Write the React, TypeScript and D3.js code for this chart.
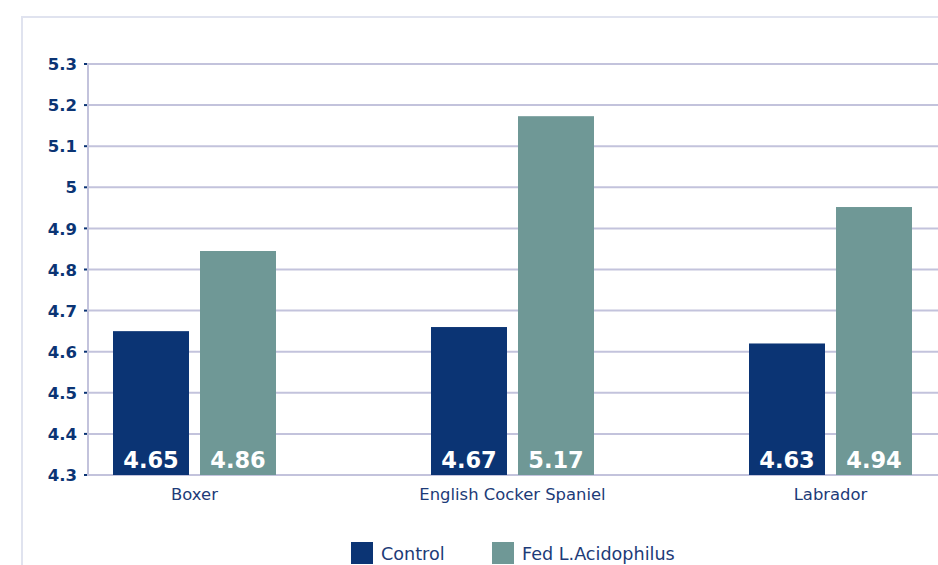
import React from "react";
import * as d3 from "d3";

const categories = ["Boxer", "English Cocker Spaniel", "Labrador"];
const controlValues = [4.65, 4.66, 4.62];
const fedValues = [4.845, 5.173, 4.952];
const controlLabels = ["4.65", "4.67", "4.63"];
const fedLabels = ["4.86", "5.17", "4.94"];
const yTicks = [4.3, 4.4, 4.5, 4.6, 4.7, 4.8, 4.9, 5, 5.1, 5.2, 5.3];
const seriesNames = ["Control", "Fed L.Acidophilus"];

const W = 938;
const H = 565;
const NAVY = "#0b3474";
const TEAL = "#6f9896";
const GRID = "#c3c3dc";
const FONT = "'DejaVu Sans', sans-serif";

export default function App() {
  const y = d3.scaleLinear().domain([4.3, 5.3]).range([475, 64]);
  const x = d3.scalePoint<string>().domain(categories).range([194.5, 830.5]);
  const barW = 76;
  const gap = 11;
  const axisX = 88;

  return (
    <svg
      width={W}
      height={H}
      style={{ position: "absolute", left: 0, top: 0, background: "#fff" }}
      fontFamily={FONT}
    >
      {/* frame */}
      <rect x={22} y={17} width={W} height={H} fill="none" stroke="#e0e3ef" strokeWidth={2} />
      {/* gridlines */}
      {yTicks.map((t) => (
        <g key={t}>
          <line x1={axisX} x2={W} y1={y(t)} y2={y(t)} stroke={GRID} strokeWidth={2} />
          <line x1={axisX - 4} x2={axisX} y1={y(t)} y2={y(t)} stroke={NAVY} strokeWidth={2} />
          <text
            x={77}
            y={y(t)}
            dy="0.37em"
            textAnchor="end"
            fontSize={16.5}
            fontWeight="bold"
            fill={NAVY}
          >
            {d3.format("")(t)}
          </text>
        </g>
      ))}
      <line x1={axisX} x2={axisX} y1={y(5.3) - 1} y2={y(4.3) + 1} stroke={GRID} strokeWidth={2} />
      {/* bars */}
      {categories.map((c, i) => {
        const cx = x(c)!;
        const x0 = cx - gap / 2 - barW;
        const x1 = cx + gap / 2;
        return (
          <g key={c}>
            <rect x={x0} y={y(controlValues[i])} width={barW} height={y(4.3) - y(controlValues[i])} fill={NAVY} />
            <rect x={x1} y={y(fedValues[i])} width={barW} height={y(4.3) - y(fedValues[i])} fill={TEAL} />
            <text x={x0 + barW / 2} y={467.5} textAnchor="middle" fontSize={22.5} fontWeight="bold" fill="#fff">
              {controlLabels[i]}
            </text>
            <text x={x1 + barW / 2} y={467.5} textAnchor="middle" fontSize={22.5} fontWeight="bold" fill="#fff">
              {fedLabels[i]}
            </text>
            <text x={cx} y={500} textAnchor="middle" fontSize={16.4} fill="#1d3b78">
              {c}
            </text>
          </g>
        );
      })}
      {/* legend */}
      {seriesNames.map((s, i) => {
        const lx = i === 0 ? 351 : 492;
        return (
          <g key={s}>
            <rect x={lx} y={542} width={22} height={22} fill={i === 0 ? NAVY : TEAL} />
            <text x={lx + 30} y={560} fontSize={17.6} fill="#1d3b78">
              {s}
            </text>
          </g>
        );
      })}
    </svg>
  );
}
